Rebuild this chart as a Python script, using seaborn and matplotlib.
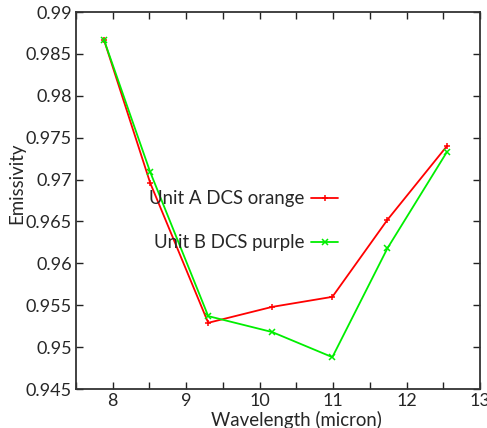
import matplotlib
matplotlib.use("Agg")
import matplotlib.pyplot as plt
import seaborn as sns
import pandas as pd
from matplotlib.ticker import MultipleLocator, FixedLocator

wavelength = [7.88, 8.51, 9.30, 10.17, 10.99, 11.74, 12.55]
unit_a = [0.9867, 0.9696, 0.9529, 0.9548, 0.9560, 0.9652, 0.9740]
unit_b = [0.9867, 0.9709, 0.9537, 0.9518, 0.9488, 0.9618, 0.9733]
labels = ["Unit A DCS orange", "Unit B DCS purple"]
x_ticks = [8, 9, 10, 11, 12, 13]
y_ticks = [0.945, 0.95, 0.955, 0.96, 0.965, 0.97, 0.975, 0.98, 0.985, 0.99]

sns.set_style("ticks")
plt.rcParams["font.family"] = ["Lato", "DejaVu Sans"]

fig = plt.figure(figsize=(4.87, 4.28), dpi=100)
ax = fig.add_axes([76/487, 1-389/428, 404/487, 377/428])

red = "#ff0000"
green = "#00ee00"
dfa = pd.DataFrame({"x": wavelength, "y": unit_a})
dfb = pd.DataFrame({"x": wavelength, "y": unit_b})
sns.lineplot(data=dfa, x="x", y="y", ax=ax, color=red, marker="+",
             markersize=5, markeredgewidth=1.1, markeredgecolor=red,
             linewidth=1.3, label=labels[0])
sns.lineplot(data=dfb, x="x", y="y", ax=ax, color=green, marker="x",
             markersize=4, markeredgewidth=1.1, markeredgecolor=green,
             linewidth=1.3, label=labels[1])

ax.set_xlim(7.5, 13)
ax.set_ylim(0.945, 0.99)
ax.xaxis.set_major_locator(FixedLocator(x_ticks))
ax.xaxis.set_minor_locator(MultipleLocator(0.5))
ax.yaxis.set_major_locator(FixedLocator(y_ticks))
ax.set_yticklabels([f"{v:g}" for v in y_ticks])
ax.set_xticklabels([str(v) for v in x_ticks])
ax.tick_params(which="both", direction="in", top=True, right=True,
               length=5, width=1, color="#222222", labelsize=13, pad=3)
ax.tick_params(which="minor", length=5)
for s in ax.spines.values():
    s.set_linewidth(1.3)
    s.set_color("#333333")

ax.set_xlabel("Wavelength (micron)", fontsize=13.4)
ax.set_ylabel("Emissivity", fontsize=13.4)
ax.xaxis.set_label_coords((296-76)/404, -0.058)
ax.yaxis.set_label_coords(-0.125, 0.545)

leg = ax.legend(loc="upper left", bbox_to_anchor=(0.14, 0.572), frameon=False,
                markerfirst=False, fontsize=13.4, labelspacing=1.47,
                handlelength=1.45, handletextpad=0.35)

fig.savefig("out.png", dpi=100)
